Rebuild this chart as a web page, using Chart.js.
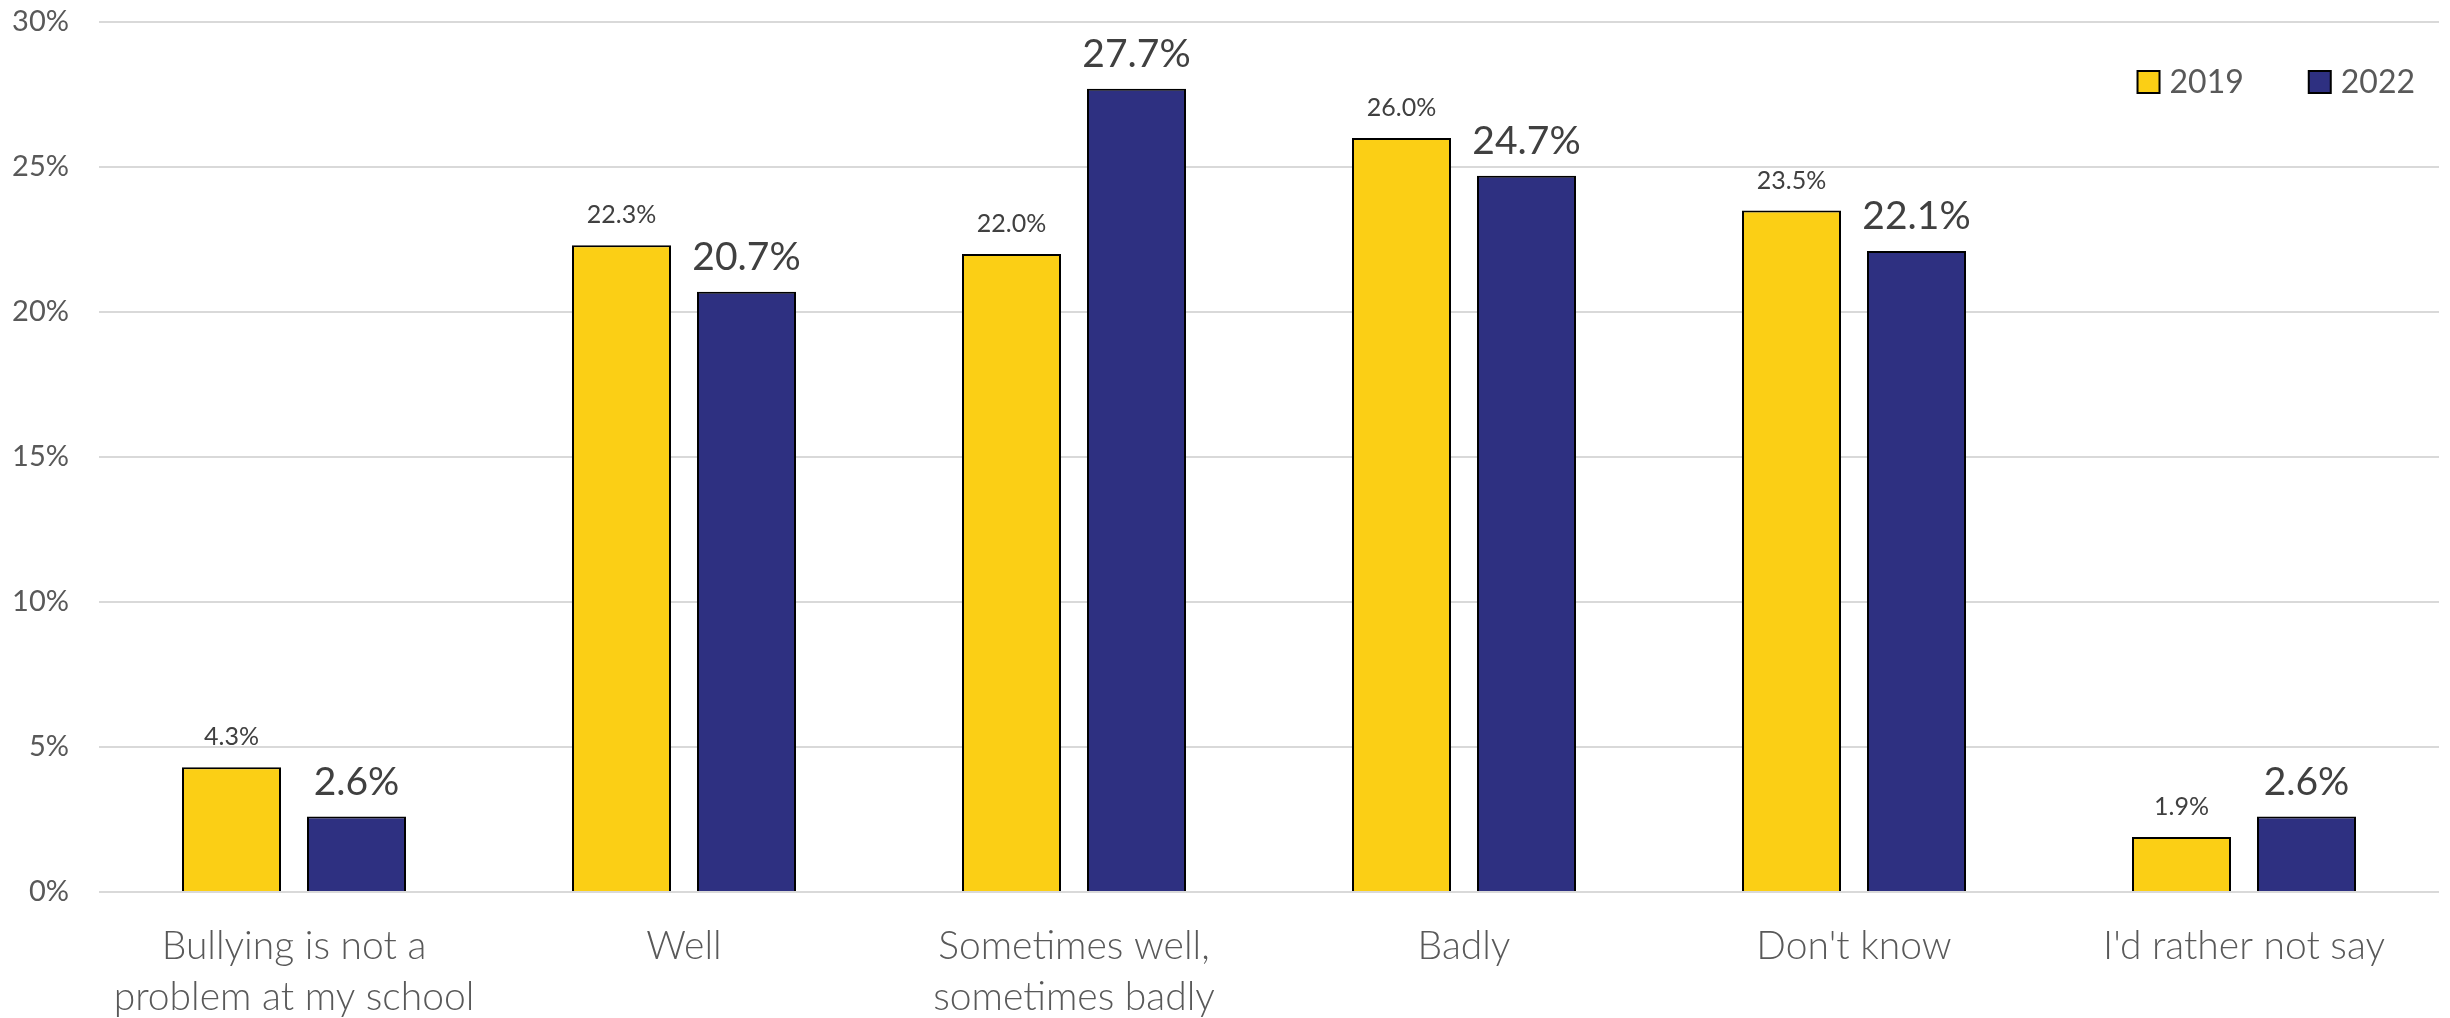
<!DOCTYPE html>
<html>
<head>
<meta charset="utf-8">
<script src="https://cdn.jsdelivr.net/npm/chart.js@4"></script>
<style>
  html, body { margin: 0; padding: 0; background: #fff; }
  #wrap { width: 2450px; height: 1018px; }
</style>
</head>
<body>
<div id="wrap"><canvas id="chart" width="2450" height="1018"></canvas></div>
<script>
// categories and values
var categories = [
	['Bullying is not a', 'problem at my school'],
	'Well',
	['Sometimes well,', 'sometimes badly'],
	'Badly',
	"Don't know",
	"I'd rather not say"
];
var seriesNames = ['2019', '2022'];
var values2019 = [4.3, 22.3, 22.0, 26.0, 23.5, 1.9];
var values2022 = [2.6, 20.7, 27.7, 24.7, 22.1, 2.6];
var yTicks = [0, 5, 10, 15, 20, 25, 30];

var FONT = 'Lato, "Open Sans", sans-serif';
var GREY = '#595959';

// value labels above each bar, 2019 small and 2022 big
var barLabels = {
	id: 'barLabels',
	afterDatasetsDraw: function(chart) {
		var ctx = chart.ctx;
		var sizes = [25, 39];
		chart.data.datasets.forEach(function(ds, i) {
			var meta = chart.getDatasetMeta(i);
			ctx.save();
			ctx.font = sizes[i] + 'px ' + FONT;
			ctx.fillStyle = '#404040';
			ctx.textAlign = 'center';
			ctx.textBaseline = 'alphabetic';
			meta.data.forEach(function(bar, j) {
				ctx.fillText(ds.data[j].toFixed(1) + '%', bar.x, bar.y - 22);
			});
			ctx.restore();
		});
	}
};

// legend drawn inside the plot, top right
var insideLegend = {
	id: 'insideLegend',
	afterDraw: function(chart) {
		var ctx = chart.ctx;
		var area = chart.chartArea;
		ctx.save();
		ctx.font = '32px ' + FONT;
		ctx.textBaseline = 'middle';
		ctx.textAlign = 'left';
		var box = 22, gap = 10, spacing = 65;
		var cy = 82;
		var x = area.right - 24;
		var items = chart.data.datasets.slice().reverse();
		items.forEach(function(ds) {
			var w = ctx.measureText(ds.label).width;
			x -= w;
			ctx.fillStyle = GREY;
			ctx.fillText(ds.label, x, cy + 1);
			x -= gap + box;
			ctx.fillStyle = ds.backgroundColor;
			ctx.fillRect(x, cy - box / 2, box, box);
			ctx.lineWidth = 2;
			ctx.strokeStyle = '#000';
			ctx.strokeRect(x, cy - box / 2, box, box);
			x -= spacing;
		});
		ctx.restore();
	}
};

var data = {
	labels: categories,
	datasets: [{
		label: seriesNames[0],
		data: values2019,
		backgroundColor: '#FBCF15',
		borderColor: '#000',
		borderWidth: 2,
		categoryPercentage: 0.641,
		barPercentage: 0.792
	}, {
		label: seriesNames[1],
		data: values2022,
		backgroundColor: '#2E3081',
		borderColor: '#000',
		borderWidth: 2,
		categoryPercentage: 0.641,
		barPercentage: 0.792
	}]
};

var config = {
	type: 'bar',
	data: data,
	plugins: [barLabels, insideLegend],
	options: {
		responsive: false,
		animation: false,
		devicePixelRatio: 1,
		layout: {
			padding: { top: 22, right: 11, left: 0, bottom: 0 }
		},
		plugins: {
			legend: { display: false },
			tooltip: { enabled: false }
		},
		scales: {
			x: {
				grid: { display: false, drawTicks: false },
				border: { display: false },
				ticks: {
					color: GREY,
					padding: 28,
					maxRotation: 0,
					autoSkip: false,
					font: { family: FONT, size: 39, weight: 300, lineHeight: 1.33 }
				},
				afterFit: function(scale) {
					scale.height = 126;
					scale.paddingLeft = 0;
					scale.paddingRight = 0;
				}
			},
			y: {
				min: yTicks[0],
				max: yTicks[yTicks.length - 1],
				grid: { color: '#d9d9d9', lineWidth: 2, drawTicks: false },
				border: { display: false },
				afterBuildTicks: function(scale) {
					scale.ticks = yTicks.map(function(v) { return { value: v }; });
				},
				ticks: {
					color: GREY,
					padding: 30,
					font: { family: FONT, size: 29 },
					callback: function(v) { return v + '%'; }
				},
				afterFit: function(scale) {
					scale.width = 99;
					scale.paddingTop = 0;
					scale.paddingBottom = 0;
				}
			}
		}
	}
};

var myChart = new Chart(document.getElementById('chart').getContext('2d'), config);
</script>
</body>
</html>
